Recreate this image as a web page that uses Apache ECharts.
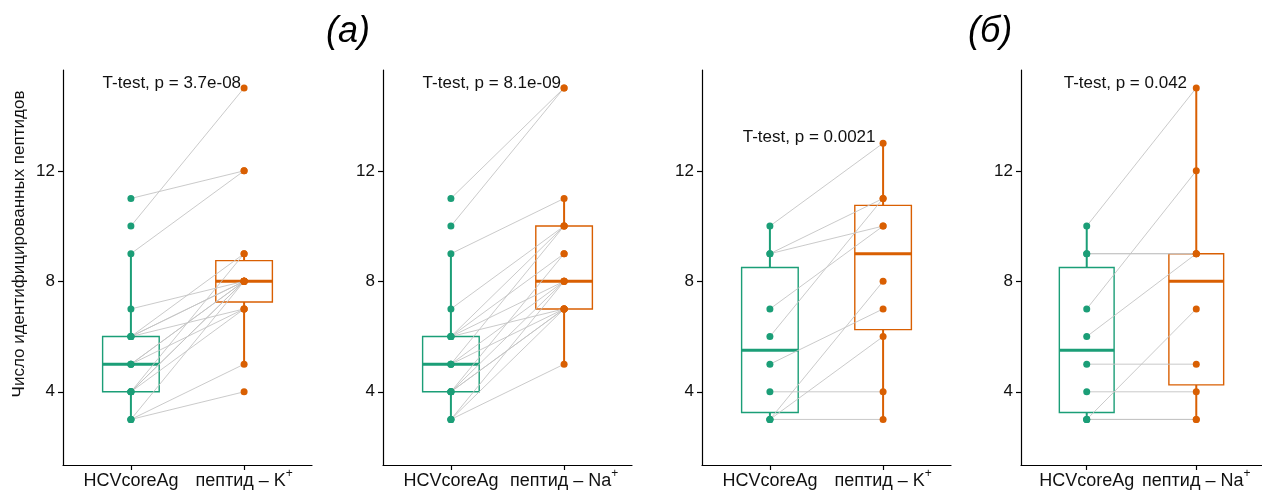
<!DOCTYPE html>
<html>
<head>
<meta charset="utf-8">
<script src="https://cdn.jsdelivr.net/npm/echarts@6/dist/echarts.min.js"></script>
<style>
html,body{margin:0;padding:0;background:#fff;}
#chart{width:1262px;height:493px;}
</style>
</head>
<body>
<div id="chart"></div>
<script>
// ---------------- data ----------------
const groupNames = ['HCVcoreAg', 'пептид – K', 'пептид – Na'];
const superscript = '+';
const yTicks = [4, 8, 12];
const yTitle = 'Число идентифицированных пептидов';
const panelTitles = ['(а)', '(б)'];

// panel (а), K+
const hcvA = [11, 10, 9, 7, 6, 6, 6, 6, 5, 5, 5, 4, 4, 4, 4, 3, 3, 3];
const pepAK = [12, 15, 12, 8, 9, 8, 8, 7, 8, 8, 7, 9, 8, 8, 7, 5, 4, 8];
// panel (а), Na+
const pepANa = [15, 15, 11, 10, 10, 9, 8, 7, 10, 8, 7, 9, 8, 7, 7, 8, 7, 5];
// panel (б)
const hcvB = [10, 9, 9, 7, 6, 5, 4, 3, 3, 3];
const pepBK = [13, 11, 10, 10, 11, 7, 4, 3, 6, 8];
const pepBNa = [15, 9, 9, 12, 9, 5, 4, 3, 3, 7];

// box stats [lower whisker, Q1, median, Q3, upper whisker]
const boxHcvA = [3, 4, 5, 6, 9];
const boxPepAK = [5, 7.25, 8, 8.75, 9];
const boxPepANa = [5, 7, 8, 10, 11];
const boxHcvB = [3, 3.25, 5.5, 8.5, 10];
const boxPepBK = [3, 6.25, 9, 10.75, 13];
const boxPepBNa = [3, 4.25, 8, 9, 15];

const pLabels = ['T-test, p = 3.7e-08', 'T-test, p = 8.1e-09', 'T-test, p = 0.0021', 'T-test, p = 0.042'];

// ---------------- layout / style ----------------
const FONT = '"Liberation Sans", Arial, Helvetica, sans-serif';
const GREEN = '#1B9E77', ORANGE = '#D95F02';
const panels = [
  {hcv: hcvA, pep: pepAK, boxH: boxHcvA, boxP: boxPepAK, ion: 1, left: 63, lx: 0.75, ly: 15.15},
  {hcv: hcvA, pep: pepANa, boxH: boxHcvA, boxP: boxPepANa, ion: 2, left: 383, lx: 0.75, ly: 15.15},
  {hcv: hcvB, pep: pepBK, boxH: boxHcvB, boxP: boxPepBK, ion: 1, left: 702, lx: 0.76, ly: 13.2},
  {hcv: hcvB, pep: pepBNa, boxH: boxHcvB, boxP: boxPepBNa, ion: 2, left: 1021, lx: 0.79, ly: 15.15}
];

const grids = [], xAxes = [], yAxes = [], series = [];

function renderBox(params, api) {
  const x = api.value(0);
  const lo = api.value(1), q1 = api.value(2), md = api.value(3), q3 = api.value(4), hi = api.value(5);
  const color = x === 1 ? GREEN : ORANGE;
  const half = api.size([0.25, 0])[0];
  const c = api.coord([x, md]);
  const yLo = api.coord([x, lo])[1], yQ1 = api.coord([x, q1])[1], yMd = c[1];
  const yQ3 = api.coord([x, q3])[1], yHi = api.coord([x, hi])[1];
  return {
    type: 'group',
    children: [
      {type: 'line', shape: {x1: c[0], y1: yLo, x2: c[0], y2: yQ1}, style: {stroke: color, lineWidth: 2}},
      {type: 'line', shape: {x1: c[0], y1: yQ3, x2: c[0], y2: yHi}, style: {stroke: color, lineWidth: 2}},
      {type: 'rect', shape: {x: c[0] - half, y: yQ3, width: 2 * half, height: yQ1 - yQ3},
        style: {fill: '#fff', stroke: color, lineWidth: 1.4}},
      {type: 'line', shape: {x1: c[0] - half, y1: yMd, x2: c[0] + half, y2: yMd}, style: {stroke: color, lineWidth: 3}}
    ]
  };
}

function renderPair(params, api) {
  const a = api.coord([1, api.value(0)]);
  const b = api.coord([2, api.value(1)]);
  return {type: 'line', shape: {x1: a[0], y1: a[1], x2: b[0], y2: b[1]},
    style: {stroke: '#c4c4c4', lineWidth: 0.9}};
}

panels.forEach((p, i) => {
  grids.push({left: p.left, top: 70, width: 249, height: 395, containLabel: false});
  const ionName = groupNames[p.ion];
  xAxes.push({
    gridIndex: i, type: 'value', min: 0.4, max: 2.6,
    axisLine: {show: true, lineStyle: {color: '#000', width: 1.2}},
    axisTick: {show: true, customValues: [1, 2], length: 5, lineStyle: {color: '#000', width: 1.2}},
    axisLabel: {
      customValues: [1, 2], margin: 3, fontSize: 18, color: '#111', fontFamily: FONT,
      formatter: v => v === 1 ? '{n|' + groupNames[0] + '}' : '{n|' + ionName + '}{s|' + superscript + '}',
      rich: {
        n: {fontSize: 18, lineHeight: 26, fontFamily: FONT, color: '#111'},
        s: {fontSize: 12, lineHeight: 12, fontFamily: FONT, color: '#111', verticalAlign: 'top'}
      }
    },
    splitLine: {show: false}
  });
  yAxes.push({
    gridIndex: i, type: 'value', min: 1.35, max: 15.65,
    axisLine: {show: true, lineStyle: {color: '#000', width: 1.2}},
    axisTick: {show: true, customValues: yTicks, length: 5, lineStyle: {color: '#000', width: 1.2}},
    axisLabel: {customValues: yTicks, margin: 8, fontSize: 17, color: '#111', fontFamily: FONT},
    splitLine: {show: false}
  });
  series.push({
    type: 'custom', xAxisIndex: i, yAxisIndex: i, renderItem: renderBox, z: 1,
    data: [[1].concat(p.boxH), [2].concat(p.boxP)], silent: true
  });
  series.push({
    type: 'custom', xAxisIndex: i, yAxisIndex: i, renderItem: renderPair, z: 2,
    data: p.hcv.map((v, k) => [v, p.pep[k]]), silent: true
  });
  series.push({
    type: 'scatter', xAxisIndex: i, yAxisIndex: i, z: 3, symbolSize: 7,
    itemStyle: {color: GREEN, opacity: 1}, data: p.hcv.map(v => [1, v]), silent: true
  });
  series.push({
    type: 'scatter', xAxisIndex: i, yAxisIndex: i, z: 3, symbolSize: 7,
    itemStyle: {color: ORANGE, opacity: 1}, data: p.pep.map(v => [2, v]), silent: true
  });
  series.push({
    type: 'custom', xAxisIndex: i, yAxisIndex: i, z: 4, silent: true,
    data: [[p.lx, p.ly]],
    renderItem: (params, api) => {
      const pt = api.coord([api.value(0), api.value(1)]);
      return {type: 'text', x: pt[0], y: pt[1],
        style: {text: pLabels[i], fontSize: 17, fontFamily: FONT, fill: '#111', align: 'left', verticalAlign: 'middle'}};
    }
  });
});

const chart = echarts.init(document.getElementById('chart'), null, {renderer: 'canvas'});
chart.setOption({
  animation: false,
  backgroundColor: '#fff',
  grid: grids, xAxis: xAxes, yAxis: yAxes, series: series,
  graphic: [
    {type: 'text', x: 19, y: 244, rotation: Math.PI / 2,
      style: {text: yTitle, fontSize: 17, fontFamily: FONT, fill: '#111', align: 'center', verticalAlign: 'middle'}},
    {type: 'text', x: 348, y: 32,
      style: {text: panelTitles[0], fontSize: 36, fontStyle: 'italic', fontFamily: FONT, fill: '#000', align: 'center', verticalAlign: 'middle'}},
    {type: 'text', x: 990, y: 32,
      style: {text: panelTitles[1], fontSize: 36, fontStyle: 'italic', fontFamily: FONT, fill: '#000', align: 'center', verticalAlign: 'middle'}}
  ]
});
</script>
</body>
</html>
